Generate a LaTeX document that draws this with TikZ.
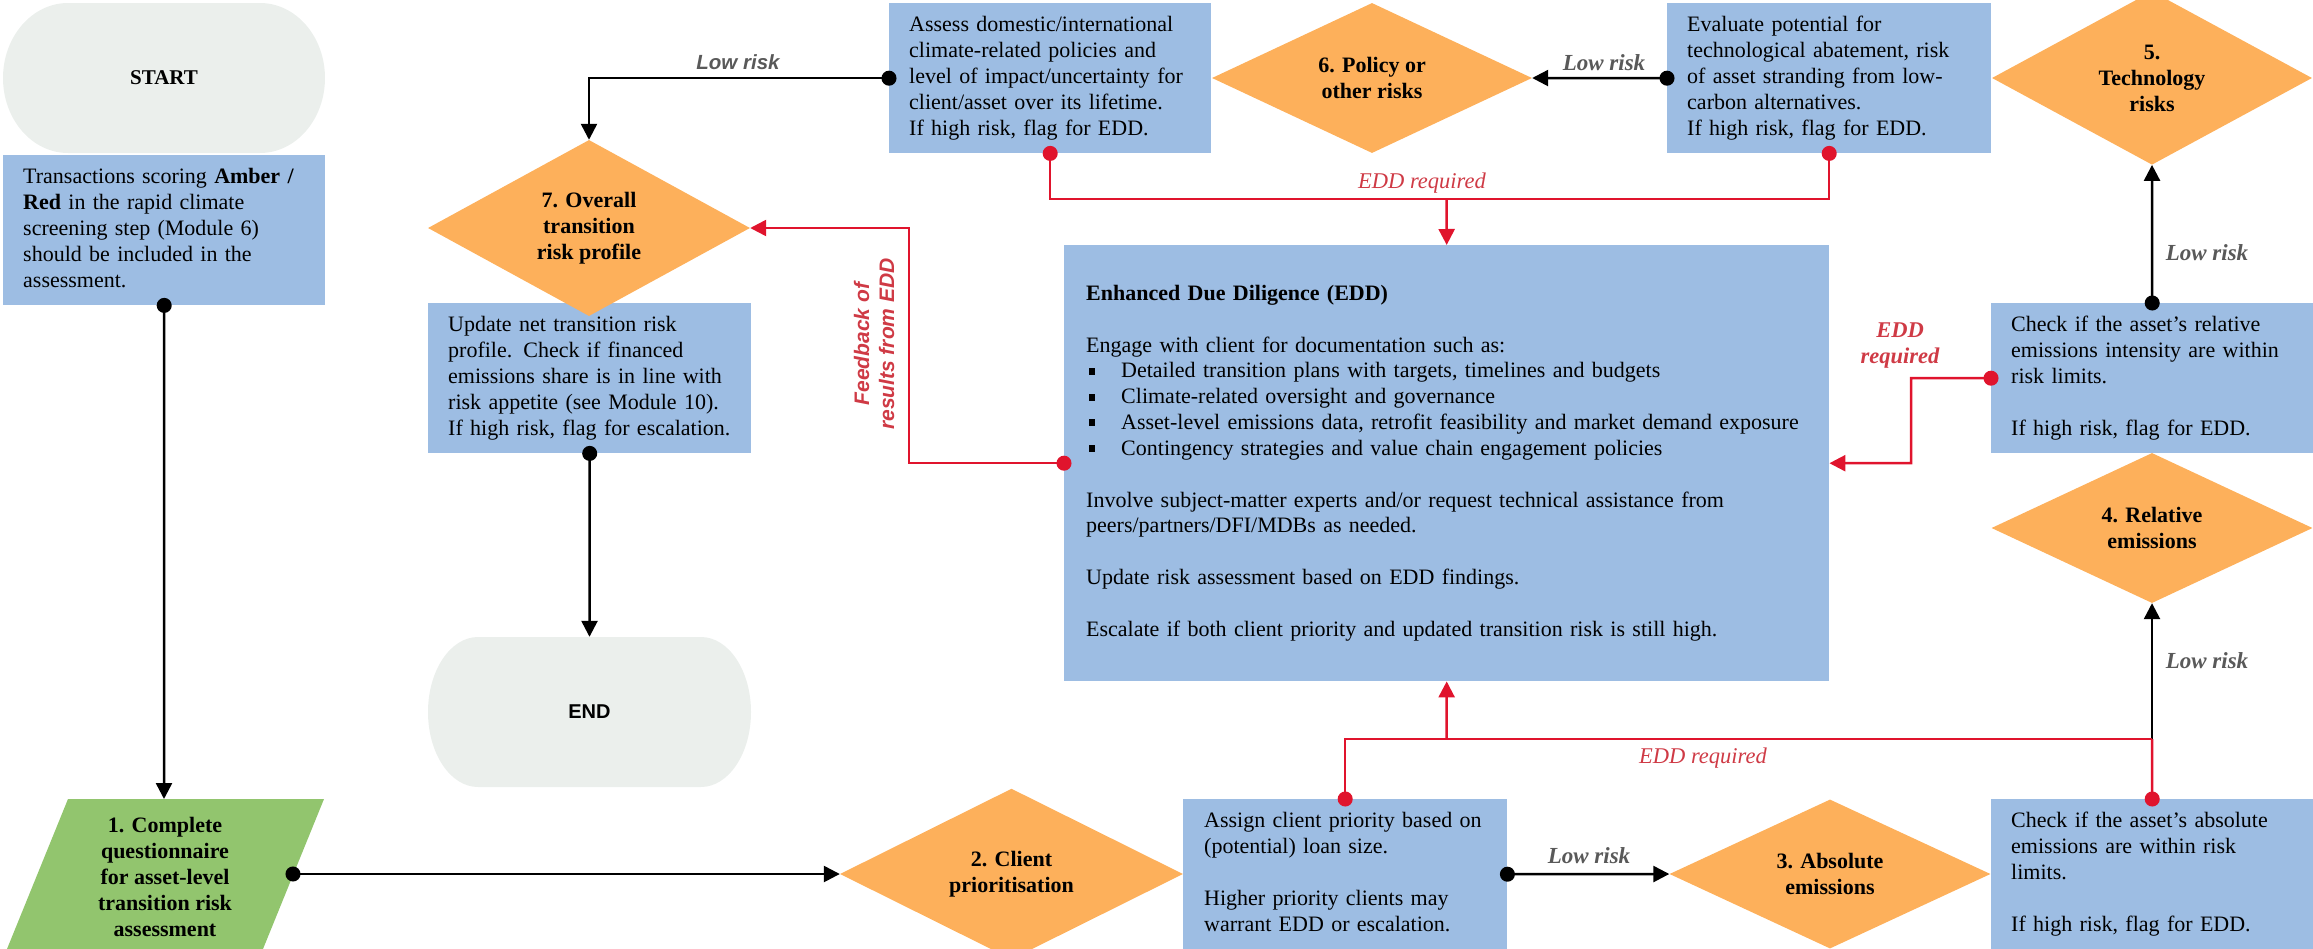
\documentclass[tikz,border=0pt]{standalone}
\usepackage{fontspec}
\setmainfont{Liberation Serif}
\setsansfont{Liberation Sans}
\usetikzlibrary{arrows.meta,shapes.geometric}
\definecolor{boxblue}{HTML}{9DBDE3}
\definecolor{dorange}{HTML}{FDB05B}
\definecolor{qgreen}{HTML}{92C56E}
\definecolor{termgray}{HTML}{EBEFEC}
\definecolor{lred}{HTML}{E0142D}
\definecolor{tred}{HTML}{CF3A45}
\definecolor{lowgray}{HTML}{595959}
\newcommand\bulitem{\makebox[35pt][l]{\hspace{3pt}\rule[3pt]{6pt}{7pt}}}
\newcommand\tlines[1]{\begin{tabular}{@{}l@{}}#1\end{tabular}}
\tikzset{
 infobox/.style={fill=boxblue, anchor=north west, inner xsep=20pt, inner ysep=0pt, align=left, font=\fontsize{22}{26}\selectfont},
 decision/.style={diamond, fill=dorange, inner sep=0pt, align=center, font=\bfseries\fontsize{22}{26}\selectfont},
 termtext/.style={minimum width=322pt, minimum height=150pt, inner sep=0pt},
 blackline/.style={line width=2.5pt, draw=black},
 redline/.style={line width=2.5pt, draw=lred},
 dotarrow/.style={arrows={Circle[length=15pt]-Triangle[length=16pt,width=16pt]}, shorten <=-7.5pt},
 dotonly/.style={arrows={Circle[length=15pt]-}, shorten <=-7.5pt},
 arrowonly/.style={arrows={-Triangle[length=16pt,width=16pt]}},
 lowlbl/.style={text=lowgray, font=\bfseries\itshape\fontsize{23}{24}\selectfont},
 lowsans/.style={text=lowgray, font=\sffamily\bfseries\itshape\fontsize{20.5}{24}\selectfont},
 eddlbl/.style={text=tred, font=\itshape\fontsize{22.5}{24}\selectfont},
 eddbold/.style={text=tred, align=center, font=\bfseries\itshape\fontsize{22.5}{26}\selectfont},
}
\begin{document}
\begin{tikzpicture}[x=1pt,y=-1pt]
\useasboundingbox (0,0) rectangle (2313,948);

% START terminator
\fill[termgray] (3+65,3) -- (325-65,3) arc[start angle=90,end angle=-90,x radius=65pt,y radius=75pt]
  -- (3+65,153) arc[start angle=270,end angle=90,x radius=65pt,y radius=75pt] -- cycle;
\node[termtext, font=\bfseries\fontsize{21}{24}\selectfont] (startn) at (164,78) {START};

% END terminator
\fill[termgray] (428+50,637) -- (751-50,637) arc[start angle=90,end angle=-90,x radius=50pt,y radius=75pt]
  -- (428+50,787) arc[start angle=270,end angle=90,x radius=50pt,y radius=75pt] -- cycle;
\node[termtext, minimum width=323pt, font=\sffamily\bfseries\fontsize{20}{24}\selectfont] (endn) at (589.5,712) {END};

% boxes
\node[infobox, text width=282pt, minimum height=150pt] (trans) at (3,155)
 {\tlines{Transactions scoring \textbf{Amber /}\\ \textbf{Red} in the rapid climate\\ screening step (Module 6)\\ should be included in the\\ assessment.}};
\node[infobox, text width=282pt, minimum height=150pt] (assess) at (889,3)
 {\tlines{Assess domestic/international\\ climate-related policies and\\ level of impact/uncertainty for\\ client/asset over its lifetime.\\ If high risk, flag for EDD.}};
\node[infobox, text width=284pt, minimum height=150pt] (evaluate) at (1667,3)
 {\tlines{Evaluate potential for\\ technological abatement, risk\\ of asset stranding from low-\\ carbon alternatives.\\ If high risk, flag for EDD.}};
\node[infobox, text width=283pt, minimum height=150pt] (update) at (428,303)
 {\tlines{Update net transition risk\\ profile. Check if financed\\ emissions share is in line with\\ risk appetite (see Module 10).\\ If high risk, flag for escalation.}};
\node[infobox, text width=282pt, minimum height=150pt] (checkrel) at (1991,303)
 {\tlines{Check if the asset’s relative\\ emissions intensity are within\\ risk limits.\\[26pt] If high risk, flag for EDD.}};
\node[infobox, text width=282pt, minimum height=150pt] (checkabs) at (1991,799)
 {\tlines{Check if the asset’s absolute\\ emissions are within risk\\ limits.\\[26pt] If high risk, flag for EDD.}};
\node[infobox, text width=282pt, inner xsep=21pt, minimum height=150pt] (assign) at (1183,799)
 {\tlines{Assign client priority based on\\ (potential) loan size.\\[26pt] Higher priority clients may\\ warrant EDD or escalation.}};
\node[infobox, text width=721pt, inner xsep=22pt, minimum height=436pt, font=\fontsize{22}{25.8}\selectfont] (edd) at (1064,245)
 {\tlines{\textbf{Enhanced Due Diligence (EDD)}\\[26pt]
  Engage with client for documentation such as:\\
  \bulitem Detailed transition plans with targets, timelines and budgets\\
  \bulitem Climate-related oversight and governance\\
  \bulitem Asset-level emissions data, retrofit feasibility and market demand exposure\\
  \bulitem Contingency strategies and value chain engagement policies\\[26pt]
  Involve subject-matter experts and/or request technical assistance from\\
  peers/partners/DFI/MDBs as needed.\\[26pt]
  Update risk assessment based on EDD findings.\\[26pt]
  Escalate if both client priority and updated transition risk is still high.}};

% decisions
\node[decision, minimum width=322pt, minimum height=150pt] (d7) at (589,228) {7. Overall\\transition\\risk profile};
\node[decision, minimum width=320pt, minimum height=150pt] (d6) at (1372,78) {6. Policy or\\other risks};
\node[decision, minimum width=320pt, minimum height=150pt] (d5) at (2152,78) {5.\\Technology\\risks};
\node[decision, minimum width=321pt, minimum height=150pt] (d4) at (2152,528) {4. Relative\\emissions};
\node[decision, minimum width=321pt, minimum height=149pt] (d3) at (1830,874) {3. Absolute\\emissions};
\node[decision, minimum width=343pt, minimum height=149pt] (d2) at (1011.5,874) {2. Client\\prioritisation};

% questionnaire parallelogram
\fill[qgreen] (68,799) -- (324,799) -- (263,949) -- (7,949) -- cycle;
\node[align=center, font=\bfseries\fontsize{22}{26}\selectfont] (q1) at (165,877)
 {1. Complete\\questionnaire\\for asset-level\\transition risk\\assessment};
\coordinate (q1top) at (164,799);
\coordinate (q1e) at (293,874);

% helper coordinates
\coordinate (jtop) at (1446.5,199);
\coordinate (jbot) at (1446.5,739);
\coordinate (jbr) at (2152,739);
\coordinate (rbend) at (1911,378);
\coordinate (fb) at (909,228);

% black connectors
\draw[blackline, dotarrow] (trans.south) -- (q1top);
\draw[blackline, dotarrow] (q1e) -- (d2.west);
\draw[blackline, dotarrow] (assign.east) -- (d3.west);
\draw[blackline, arrowonly] (jbr) -- (d4.south);
\draw[blackline, dotarrow] (checkrel.north) -- (d5.south);
\draw[blackline, dotarrow] (evaluate.west) -- (d6.east);
\draw[blackline, dotarrow] (assess.west) -| (d7.north);
\draw[blackline, dotarrow] (update.south) -- (endn.north);

% red connectors
\draw[redline, dotonly] (assess.south) |- (jtop);
\draw[redline, dotonly] (evaluate.south) |- (jtop);
\draw[redline, arrowonly] (jtop) -- (edd.north);
\draw[redline, dotonly] (assign.north) |- (jbr);
\draw[redline, dotonly] (checkabs.north) -- (jbr);
\draw[redline, arrowonly] (jbot) -- (edd.south);
\draw[redline, dotarrow] (checkrel.west) -- (rbend) |- (edd.east);
\draw[redline, dotarrow] (edd.west) -| (fb) -- (d7.east);

% labels
\node[lowsans] (l1) at (738,62) {Low risk};
\node[lowlbl] (l2) at (1604,63) {Low risk};
\node[lowlbl] (l3) at (2207,253) {Low risk};
\node[lowlbl] (l4) at (2207,661) {Low risk};
\node[lowlbl] (l5) at (1589,856) {Low risk};
\node[eddlbl] (e1) at (1422,183) {EDD required};
\node[eddlbl] (e2) at (1703,758) {EDD required};
\node[eddbold] (e3) at (1900,346) {EDD\\required};
\node[rotate=90, text=tred, align=center, font=\sffamily\bfseries\itshape\fontsize{21}{25}\selectfont] (fbl) at (874,344) {Feedback of\\results from EDD};
\end{tikzpicture}
\end{document}
